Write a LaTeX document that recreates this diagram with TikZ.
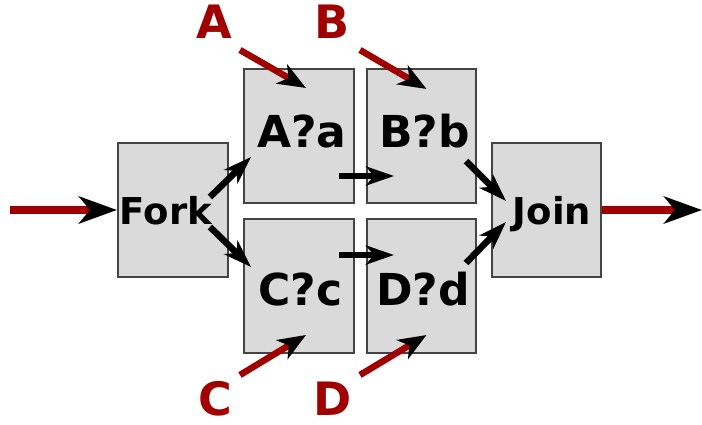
\documentclass[tikz,border=0pt]{standalone}
\usepackage{fontspec}
\setmainfont{DejaVu Sans}
\usetikzlibrary{arrows.meta}
\definecolor{boxfill}{HTML}{DADADA}
\definecolor{boxline}{HTML}{444444}
\definecolor{darkred}{HTML}{A00000}
\tikzset{
  procbox/.style={draw=boxline, fill=boxfill, line width=2pt, inner sep=0pt},
  boxtext/.style={anchor=base, inner sep=0pt, font=\bfseries\fontsize{44}{44}\selectfont},
  endtext/.style={anchor=base, inner sep=0pt, font=\bfseries\fontsize{37}{37}\selectfont},
  chanlabel/.style={anchor=base, inner sep=0pt, text=darkred, font=\bfseries\fontsize{46}{46}\selectfont},
  flow/.style={line width=6.5pt, -{Stealth[length=28pt, width=19pt, inset=8pt]}},
  chanin/.style={darkred, line width=6.5pt, -{Stealth[color=black, length=28pt, width=22pt, inset=8pt]}},
  mainflow/.style={darkred, line width=8pt, -{Stealth[color=black, length=38pt, width=27pt, inset=11pt]}}
}
\begin{document}
\begin{tikzpicture}[x=1pt, y=-1pt]
\useasboundingbox (0,0) rectangle (702,425);

% process boxes
\node[procbox, minimum width=110pt, minimum height=134pt] (fork) at (173,210) {};
\node[procbox, minimum width=110pt, minimum height=134pt] (A) at (299,136) {};
\node[procbox, minimum width=109pt, minimum height=134pt] (B) at (421.5,136) {};
\node[procbox, minimum width=110pt, minimum height=134pt] (C) at (299,286) {};
\node[procbox, minimum width=109pt, minimum height=134pt] (D) at (421.5,286) {};
\node[procbox, minimum width=109pt, minimum height=134pt] (join) at (546.5,210) {};

% box texts
\node[endtext] (forkt) at (166,224) {Fork};
\node[endtext] (joint) at (552,224) {Join};
\node[boxtext] (At) at (302,148) {A?a};
\node[boxtext] (Bt) at (424.5,148) {B?b};
\node[boxtext] (Ct) at (300.5,305) {C?c};
\node[boxtext] (Dt) at (423,305.5) {D?d};

% channel labels
\node[chanlabel] (la) at (214,39) {A};
\node[chanlabel] (lb) at (332.5,39) {B};
\node[chanlabel] (lc) at (215,415) {C};
\node[chanlabel] (ld) at (333,415) {D};

% free ends of the outer arrows
\coordinate (src) at (10,210);
\coordinate (sink) at (702,210);
\coordinate (ta) at (240,50);
\coordinate (tb) at (360,50);
\coordinate (tc) at (240,375);
\coordinate (td) at (360,375);

% main input and output
\draw[mainflow] (src) -- (fork.west);
\draw[mainflow] (join.east) -- (sink);

% channel inputs
\draw[chanin] (ta) -- ([shift={(7,20)}]A.north);
\draw[chanin] (tb) -- ([shift={(5,21)}]B.north);
\draw[chanin] (tc) -- ([shift={(7,-19)}]C.south);
\draw[chanin] (td) -- ([shift={(5,-19)}]D.south);

% internal flow
\draw[flow] ([shift={(-19,-13)}]fork.east) -- ([shift={(8,21)}]A.west);
\draw[flow] ([shift={(-19,17)}]fork.east) -- ([shift={(8,-19)}]C.west);
\draw[flow] ([shift={(-16,40)}]A.east) -- ([shift={(28,40)}]B.west);
\draw[flow] ([shift={(-16,-31)}]C.east) -- ([shift={(28,-31)}]D.west);
\draw[flow] ([shift={(-11,25)}]B.east) -- ([shift={(15,-9)}]join.west);
\draw[flow] ([shift={(-11,-23)}]D.east) -- ([shift={(15,12)}]join.west);
\end{tikzpicture}
\end{document}
